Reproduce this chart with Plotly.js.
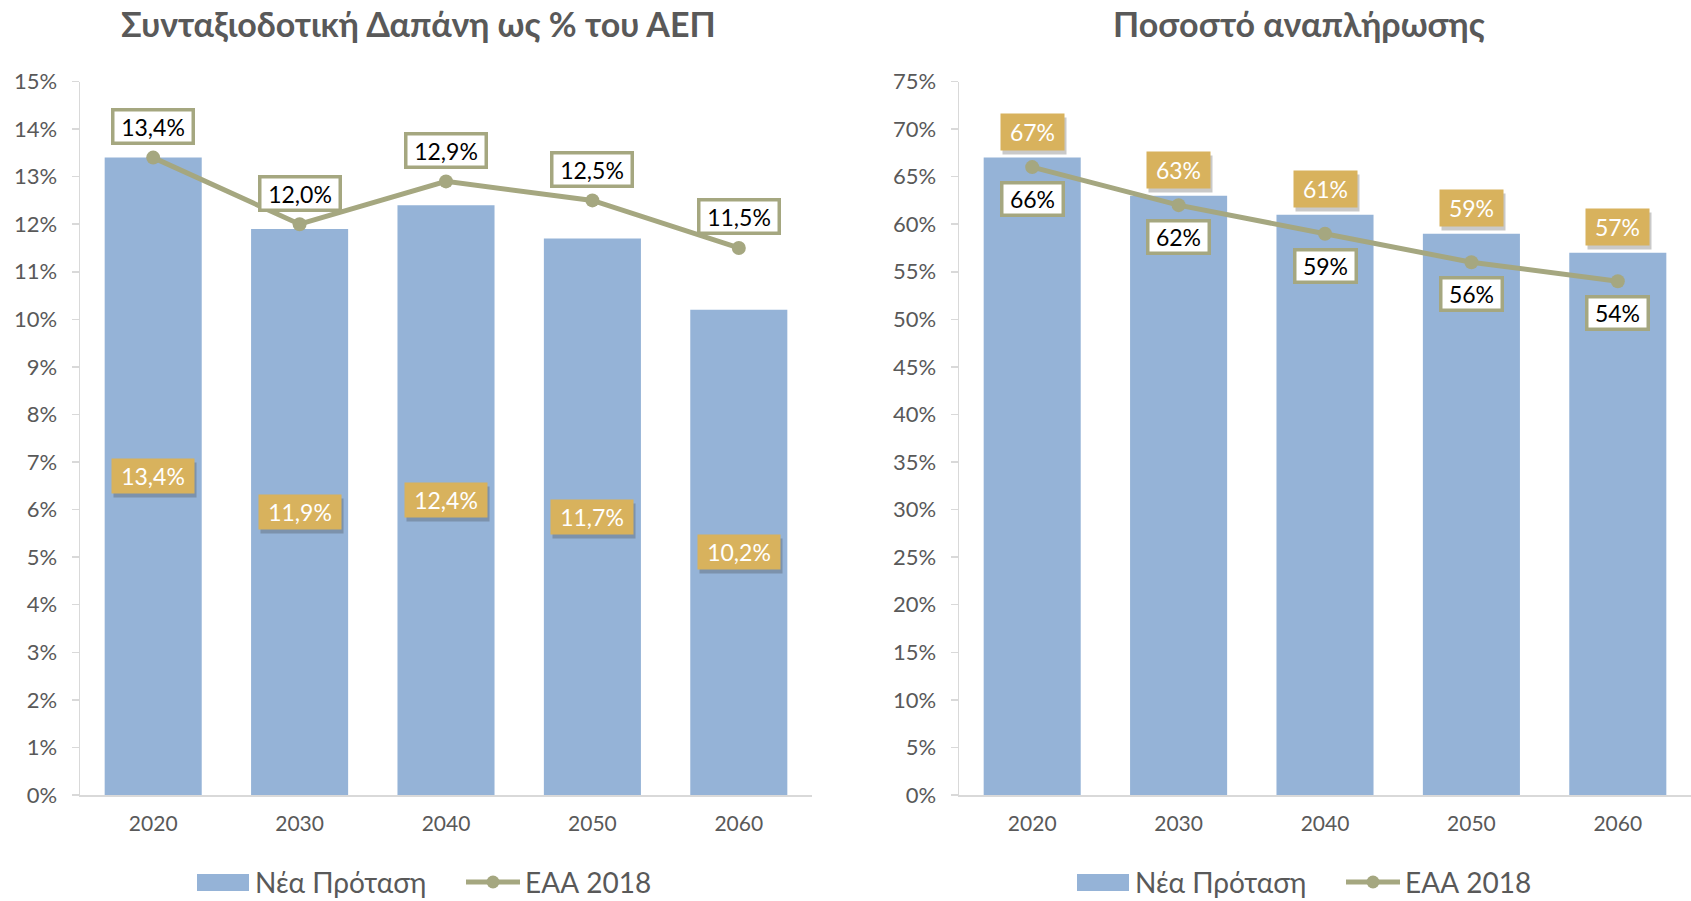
<!DOCTYPE html>
<html>
<head>
<meta charset="utf-8">
<script src="https://cdn.plot.ly/plotly-3.0.1.min.js"></script>
<style>html,body{margin:0;padding:0;background:#fff;}#chart{width:1691px;height:901px;}</style>
</head>
<body>
<div id="chart"></div>
<script>
// ---- data ----
const years = ['2020', '2030', '2040', '2050', '2060'];
const spendNew = [13.4, 11.9, 12.4, 11.7, 10.2];   // Νέα Πρόταση, % ΑΕΠ
const spendEAA = [13.4, 12.0, 12.9, 12.5, 11.5];   // ΕΑΑ 2018, % ΑΕΠ
const replNew = [67, 63, 61, 59, 57];               // Νέα Πρόταση, ποσοστό αναπλήρωσης
const replEAA = [66, 62, 59, 56, 54];               // ΕΑΑ 2018, ποσοστό αναπλήρωσης
const seriesNames = ['Νέα Πρόταση', 'ΕΑΑ 2018'];
const titles = ['Συνταξιοδοτική Δαπάνη ως % του ΑΕΠ', 'Ποσοστό αναπλήρωσης'];

// ---- styles ----
const W = 1691, H = 901;
const BLUE = '#95B3D7', OLIVE = '#A5A780', GOLD = '#D8B25D', GREY = '#595959', AXIS = '#D9D9D9';
const FONT = 'Lato, "Open Sans", sans-serif';
const px = v => v / W;
const py = v => 1 - v / H;

const fmt1 = v => v.toFixed(1).replace('.', ',') + '%';
const fmt0 = v => v + '%';

const traces = [
  {type: 'bar', x: years, y: spendNew, name: seriesNames[0], marker: {color: BLUE}, xaxis: 'x', yaxis: 'y', hoverinfo: 'skip'},
  {type: 'scatter', mode: 'lines+markers', x: years, y: spendEAA, name: seriesNames[1],
   line: {color: OLIVE, width: 5}, marker: {color: OLIVE, size: 14}, xaxis: 'x', yaxis: 'y', hoverinfo: 'skip'},
  {type: 'bar', x: years, y: replNew, name: seriesNames[0], marker: {color: BLUE}, xaxis: 'x2', yaxis: 'y2', hoverinfo: 'skip'},
  {type: 'scatter', mode: 'lines+markers', x: years, y: replEAA, name: seriesNames[1],
   line: {color: OLIVE, width: 5}, marker: {color: OLIVE, size: 14}, xaxis: 'x2', yaxis: 'y2', hoverinfo: 'skip'}
];

const ann = [];
function goldBox(xr, yr, x, y, text, w, h, yshift) {
  ann.push({xref: xr, yref: yr, x: x, y: y, text: ' ', showarrow: false, width: w, height: h,
    bgcolor: 'rgba(60,60,60,0.28)', xshift: 2, yshift: yshift - 4, borderpad: 0});
  ann.push({xref: xr, yref: yr, x: x, y: y, text: text, showarrow: false, width: w, height: h,
    bgcolor: GOLD, font: {family: FONT, size: 23, color: '#FFFFFF'}, yshift: yshift, borderpad: 0});
}
function whiteBox(xr, yr, x, y, text, w, h, yshift) {
  ann.push({xref: xr, yref: yr, x: x, y: y, text: text, showarrow: false, width: w, height: h,
    bgcolor: '#FFFFFF', bordercolor: OLIVE, borderwidth: 3.5, borderpad: 0,
    font: {family: FONT, size: 23, color: '#000000'}, yshift: yshift});
}
// category index i locates each year on the category axes
years.forEach((yr, i) => {
  goldBox('x', 'y', i, spendNew[i] / 2, fmt1(spendNew[i]), 82, 34, 0);
  whiteBox('x', 'y', i, spendEAA[i], fmt1(spendEAA[i]), 77, 30, 31);
  goldBox('x2', 'y2', i, replNew[i], fmt0(replNew[i]), 63, 36, 26);
  whiteBox('x2', 'y2', i, replEAA[i], fmt0(replEAA[i]), 58, 29, -32);
});

// titles
ann.push({xref: 'paper', yref: 'paper', x: px(418), y: py(24), text: '<b>' + titles[0] + '</b>', showarrow: false,
  xanchor: 'center', yanchor: 'middle', font: {family: FONT, size: 34, color: GREY}});
ann.push({xref: 'paper', yref: 'paper', x: px(1299), y: py(24), text: '<b>' + titles[1] + '</b>', showarrow: false,
  xanchor: 'center', yanchor: 'middle', font: {family: FONT, size: 34, color: GREY}});

// custom legends
const shapes = [];
function legend(rx, tx1, lx, tx2) {
  shapes.push({type: 'rect', xref: 'paper', yref: 'paper', x0: px(rx), x1: px(rx + 52), y0: py(891), y1: py(874),
    fillcolor: BLUE, line: {width: 0}});
  ann.push({xref: 'paper', yref: 'paper', x: px(tx1), y: py(882), text: seriesNames[0], showarrow: false,
    xanchor: 'left', yanchor: 'middle', font: {family: FONT, size: 28, color: GREY}});
  shapes.push({type: 'line', xref: 'paper', yref: 'paper', x0: px(lx), x1: px(lx + 54), y0: py(882), y1: py(882),
    line: {color: OLIVE, width: 5}});
  shapes.push({type: 'circle', xref: 'paper', yref: 'paper', x0: px(lx + 20.5), x1: px(lx + 33.5), y0: py(888.5), y1: py(875.5),
    fillcolor: OLIVE, line: {width: 0}});
  ann.push({xref: 'paper', yref: 'paper', x: px(tx2), y: py(882), text: seriesNames[1], showarrow: false,
    xanchor: 'left', yanchor: 'middle', font: {family: FONT, size: 28, color: GREY}});
}
legend(197, 253, 466, 523);
legend(1077, 1133, 1346, 1403);

const xBase = {type: 'category', showline: true, linecolor: AXIS, linewidth: 2, ticks: '', showgrid: false,
  range: [-0.5, years.length - 0.5], autorange: false,
  tickfont: {family: FONT, size: 21, color: GREY}, ticklabelstandoff: 9, fixedrange: true};
const yBase = {showline: true, linecolor: AXIS, linewidth: 1.5, ticks: 'outside', ticklen: 7, tickcolor: AXIS, tickwidth: 1.5,
  showgrid: false, zeroline: false, ticksuffix: '%', tickfont: {family: FONT, size: 22, color: GREY},
  ticklabelstandoff: 10, fixedrange: true, autorange: false};
const yDom = [106 / H, 819.5 / H];

const layout = {
  width: W, height: H, margin: {l: 0, r: 0, t: 0, b: 0},
  paper_bgcolor: '#FFFFFF', plot_bgcolor: 'rgba(0,0,0,0)',
  showlegend: false, bargap: 0.337,
  xaxis: Object.assign({}, xBase, {domain: [px(80), px(812)], anchor: 'y'}),
  yaxis: Object.assign({}, yBase, {domain: yDom, range: [0, 15], dtick: 1, anchor: 'x'}),
  xaxis2: Object.assign({}, xBase, {domain: [px(959), 1], anchor: 'y2'}),
  yaxis2: Object.assign({}, yBase, {domain: yDom, range: [0, 75], dtick: 5, anchor: 'x2'}),
  annotations: ann,
  shapes: shapes
};

Plotly.newPlot('chart', traces, layout, {displayModeBar: false, staticPlot: true});
</script>
</body>
</html>
